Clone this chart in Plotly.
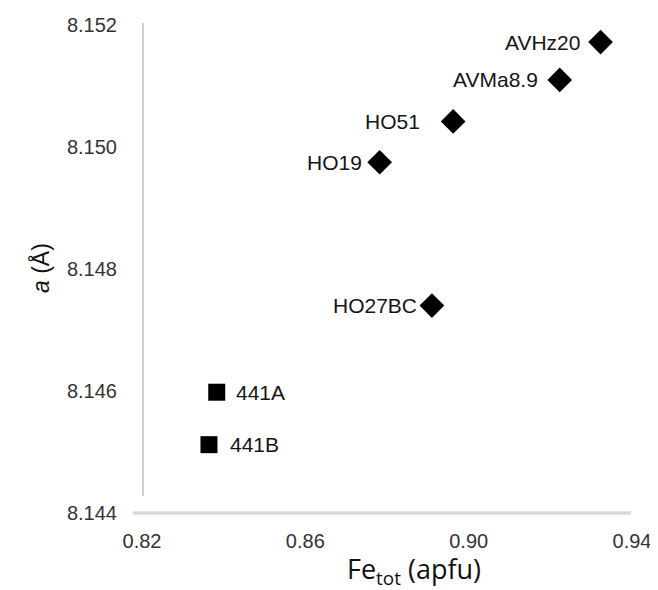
import plotly.graph_objects as go

# ---- data ----
diamond_names = ["AVHz20", "AVMa8.9", "HO51", "HO19", "HO27BC"]
diamond_fe = [0.9323, 0.9223, 0.8962, 0.8782, 0.8910]
diamond_a = [8.15172, 8.15110, 8.15042, 8.14975, 8.14740]

square_names = ["441A", "441B"]
square_fe = [0.8383, 0.8364]
square_a = [8.14598, 8.14512]

x_ticks = [0.82, 0.86, 0.90, 0.94]
x_ticktext = ["0.82", "0.86", "0.90", "0.94"]
y_ticks = [8.144, 8.146, 8.148, 8.150, 8.152]
y_ticktext = ["8.144", "8.146", "8.148", "8.150", "8.152"]

# ---- layout geometry (pixels) ----
W, H = 658, 590
L, R, T, B = 134, 34, 17, 85
PW, PH = W - L - R, H - T - B


def px(xp):
    return (xp - L) / PW


def py(yp):
    return 1 - (yp - T) / PH


label_font = dict(family="Liberation Sans, Arial", size=21, color="#151515")
tick_font = dict(family="Liberation Sans, Arial", size=20, color="#333333")

fig = go.Figure()
fig.add_trace(go.Scatter(
    x=diamond_fe, y=diamond_a, mode="markers",
    marker=dict(symbol="diamond", size=19, color="black"),
    showlegend=False, hoverinfo="skip"))
fig.add_trace(go.Scatter(
    x=square_fe, y=square_a, mode="markers",
    marker=dict(symbol="square", size=17, color="black"),
    showlegend=False, hoverinfo="skip"))

diamond_gaps = [19, 20, 31, 16, 13]
for name, xv, yv, g in zip(diamond_names, diamond_fe, diamond_a, diamond_gaps):
    fig.add_annotation(x=xv, y=yv, text=name, showarrow=False,
                       xanchor="right", yanchor="middle", xshift=-g,
                       font=label_font)
square_gaps = [17, 19]
for name, xv, yv, g in zip(square_names, square_fe, square_a, square_gaps):
    fig.add_annotation(x=xv, y=yv, text=name, showarrow=False,
                       xanchor="left", yanchor="middle", xshift=g,
                       font=label_font)

# axis titles
fig.add_annotation(xref="paper", yref="paper", x=px(406), y=py(562),
                   text="Fe<sub>tot</sub> (apfu)", showarrow=False,
                   xanchor="center", yanchor="middle",
                   font=dict(family="Open Sans", size=27, color="#111111"))
fig.add_annotation(xref="paper", yref="paper", x=px(32), y=py(260),
                   text="<i>a</i> (Å)", showarrow=False, textangle=-90,
                   xanchor="center", yanchor="middle",
                   font=dict(family="Liberation Sans, Arial", size=23, color="#111111"))

# axis lines
fig.add_shape(type="line", xref="paper", yref="paper",
              x0=px(135), x1=px(135), y0=py(15), y1=py(488),
              line=dict(color="#b4b4b4", width=1.2), layer="below")
fig.add_shape(type="line", xref="paper", yref="paper",
              x0=px(125), x1=px(623), y0=py(505), y1=py(505),
              line=dict(color="#d8d8d8", width=3.5), layer="below")

fig.update_xaxes(range=[0.82, 0.94], tickvals=x_ticks, ticktext=x_ticktext,
                 showgrid=False, zeroline=False, showline=False, ticks="",
                 tickfont=tick_font, ticklabelstandoff=14, automargin=False)
fig.update_yaxes(range=[8.144, 8.152], tickvals=y_ticks, ticktext=y_ticktext,
                 showgrid=False, zeroline=False, showline=False, ticks="",
                 tickfont=tick_font, ticklabelstandoff=24, automargin=False)

fig.update_layout(width=W, height=H, margin=dict(l=L, r=R, t=T, b=B),
                  plot_bgcolor="white", paper_bgcolor="white")

fig.write_html("out.html")
